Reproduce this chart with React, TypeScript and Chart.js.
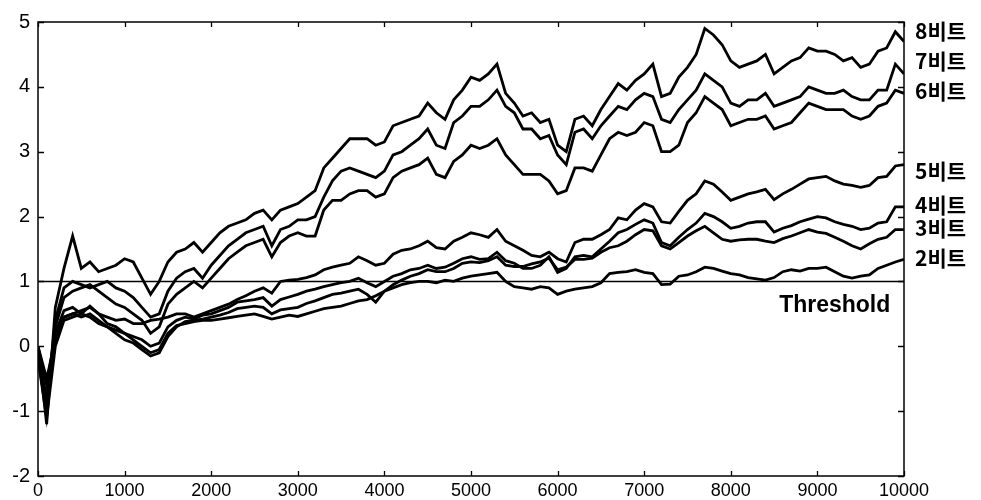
import React, { useEffect, useRef } from "react";
import { Chart, registerables } from "chart.js";

Chart.register(...registerables);

// sample positions (iterations)
const xs = [
  0, 100, 200, 300, 400, 500, 600, 700, 800, 900,
  1000, 1100, 1200, 1300, 1400, 1500, 1600, 1700, 1800, 1900,
  2000, 2100, 2200, 2300, 2400, 2500, 2600, 2700, 2800, 2900,
  3000, 3100, 3200, 3300, 3400, 3500, 3600, 3700, 3800, 3900,
  4000, 4100, 4200, 4300, 4400, 4500, 4600, 4700, 4800, 4900,
  5000, 5100, 5200, 5300, 5400, 5500, 5600, 5700, 5800, 5900,
  6000, 6100, 6200, 6300, 6400, 6500, 6600, 6700, 6800, 6900,
  7000, 7100, 7200, 7300, 7400, 7500, 7600, 7700, 7800, 7900,
  8000, 8100, 8200, 8300, 8400, 8500, 8600, 8700, 8800, 8900,
  9000, 9100, 9200, 9300, 9400, 9500, 9600, 9700, 9800, 9900,
  10000,
];

const s8 = [0.0,-1.2,0.6,1.2,1.7,1.2,1.3,1.15,1.2,1.25, 1.35,1.3,1.05,0.8,1.0,1.3,1.45,1.5,1.6,1.45, 1.6,1.75,1.85,1.9,1.95,2.05,2.1,1.95,2.1,2.15, 2.2,2.3,2.4,2.75,2.9,3.05,3.2,3.2,3.2,3.1, 3.15,3.4,3.45,3.5,3.55,3.75,3.6,3.5,3.8,3.95, 4.15,4.1,4.2,4.35,3.9,3.75,3.55,3.6,3.45,3.5, 3.1,3.0,3.5,3.55,3.4,3.65,3.85,4.05,3.95,4.1, 4.2,4.35,3.85,3.9,4.15,4.3,4.5,4.9,4.8,4.65, 4.4,4.3,4.35,4.4,4.5,4.2,4.3,4.4,4.45,4.6, 4.55,4.55,4.5,4.4,4.45,4.3,4.35,4.55,4.6,4.85, 4.7];
const s7 = [-0.1,-0.9,0.4,0.9,1.0,0.95,0.9,0.95,1.0,0.9, 0.85,0.75,0.6,0.45,0.5,0.85,1.05,1.15,1.2,1.05, 1.25,1.4,1.55,1.65,1.75,1.8,1.85,1.55,1.8,1.85, 1.95,1.95,2.0,2.3,2.55,2.7,2.75,2.7,2.65,2.6, 2.7,2.95,3.0,3.1,3.2,3.35,3.1,3.05,3.45,3.55, 3.7,3.7,3.8,3.95,3.7,3.6,3.35,3.35,3.2,3.25, 2.95,2.8,3.3,3.35,3.2,3.4,3.55,3.7,3.65,3.8, 3.9,3.85,3.5,3.45,3.65,3.8,3.95,4.2,4.1,4.0, 3.75,3.7,3.8,3.8,3.9,3.7,3.75,3.8,3.85,4.0, 3.95,3.9,3.9,3.95,3.85,3.8,3.8,3.95,3.95,4.35, 4.2];
const s6 = [-0.2,-1.0,0.3,0.75,0.85,0.9,0.95,0.85,0.75,0.65, 0.6,0.5,0.4,0.2,0.3,0.65,0.8,0.9,1.0,0.9, 1.05,1.2,1.35,1.45,1.55,1.6,1.65,1.38,1.6,1.7, 1.75,1.7,1.7,2.1,2.25,2.25,2.35,2.4,2.4,2.3, 2.35,2.6,2.7,2.75,2.8,2.9,2.65,2.6,2.85,2.95, 3.1,3.05,3.1,3.2,2.95,2.8,2.65,2.65,2.65,2.55, 2.35,2.4,2.75,2.75,2.7,2.95,3.2,3.3,3.25,3.3, 3.45,3.4,3.0,3.0,3.1,3.45,3.6,3.85,3.75,3.65, 3.4,3.45,3.5,3.5,3.55,3.35,3.4,3.45,3.6,3.75, 3.7,3.65,3.65,3.65,3.55,3.5,3.55,3.7,3.75,3.95, 3.9];
const s5 = [0.0,-0.6,0.2,0.55,0.6,0.5,0.62,0.5,0.45,0.4, 0.42,0.35,0.35,0.4,0.42,0.45,0.5,0.5,0.45,0.5, 0.55,0.6,0.65,0.72,0.78,0.85,0.9,0.82,1.0,1.02, 1.03,1.06,1.1,1.18,1.22,1.25,1.28,1.38,1.32,1.25, 1.28,1.42,1.48,1.5,1.55,1.62,1.52,1.5,1.62,1.68, 1.75,1.72,1.68,1.8,1.62,1.55,1.48,1.4,1.38,1.45, 1.35,1.3,1.6,1.65,1.65,1.72,1.8,1.98,1.95,2.1, 2.2,2.15,1.92,1.9,2.08,2.25,2.35,2.55,2.5,2.38, 2.25,2.3,2.35,2.38,2.42,2.26,2.35,2.42,2.5,2.58, 2.6,2.62,2.55,2.5,2.48,2.45,2.48,2.6,2.62,2.78, 2.8];
const s4 = [-0.1,-0.8,0.1,0.45,0.5,0.45,0.5,0.4,0.3,0.25, 0.2,0.15,0.1,0.0,0.05,0.3,0.4,0.45,0.42,0.48, 0.5,0.55,0.6,0.68,0.7,0.72,0.75,0.62,0.72,0.76, 0.8,0.85,0.88,0.92,0.95,0.98,1.0,1.05,0.98,0.92, 1.0,1.08,1.12,1.18,1.2,1.25,1.2,1.22,1.28,1.35, 1.38,1.34,1.35,1.45,1.32,1.28,1.2,1.2,1.25,1.38, 1.14,1.2,1.38,1.4,1.38,1.5,1.62,1.75,1.8,1.88, 1.95,1.9,1.6,1.55,1.68,1.8,1.9,2.05,2.0,1.92, 1.82,1.85,1.9,1.92,1.92,1.76,1.82,1.86,1.92,1.96, 2.0,1.98,1.92,1.88,1.85,1.8,1.82,1.9,1.92,2.15, 2.15];
const s3 = [-0.2,-1.1,0.0,0.4,0.45,0.5,0.45,0.35,0.3,0.2, 0.1,0.05,-0.05,-0.15,-0.1,0.15,0.3,0.38,0.4,0.42, 0.45,0.48,0.52,0.58,0.6,0.62,0.6,0.5,0.56,0.58, 0.6,0.66,0.7,0.75,0.8,0.82,0.85,0.88,0.8,0.68, 0.85,0.95,1.02,1.08,1.12,1.18,1.15,1.15,1.2,1.28, 1.3,1.29,1.32,1.38,1.25,1.23,1.23,1.27,1.3,1.36, 1.18,1.22,1.34,1.34,1.36,1.45,1.52,1.55,1.62,1.72, 1.8,1.78,1.55,1.5,1.6,1.7,1.78,1.85,1.75,1.65, 1.62,1.64,1.65,1.65,1.62,1.6,1.66,1.7,1.75,1.8, 1.76,1.74,1.68,1.62,1.55,1.5,1.58,1.65,1.68,1.8, 1.8];
const s2 = [0.0,-0.5,0.1,0.45,0.5,0.55,0.6,0.5,0.35,0.3, 0.2,0.1,0.0,-0.1,-0.05,0.2,0.32,0.35,0.38,0.4, 0.4,0.42,0.44,0.46,0.48,0.5,0.46,0.42,0.45,0.48, 0.46,0.5,0.54,0.58,0.6,0.62,0.66,0.7,0.72,0.78, 0.85,0.9,0.95,0.98,1.0,1.0,0.98,1.02,1.0,1.05, 1.08,1.1,1.12,1.14,1.0,0.92,0.9,0.88,0.92,0.9, 0.8,0.85,0.88,0.9,0.92,0.98,1.12,1.14,1.15,1.18, 1.14,1.12,0.95,0.96,1.08,1.1,1.15,1.22,1.2,1.16, 1.12,1.1,1.06,1.04,1.02,1.06,1.15,1.18,1.16,1.2, 1.2,1.22,1.15,1.08,1.05,1.08,1.1,1.2,1.25,1.3, 1.34];

const seriesNames = ["8비트", "7비트", "6비트", "5비트", "4비트", "3비트", "2비트"];
const seriesValues = [s8, s7, s6, s5, s4, s3, s2];
// y positions (data units) of the right-hand series labels
const labelLevels = [4.86, 4.4, 3.94, 2.7, 2.18, 1.83, 1.36];

const thresholdValue = 1;
const thresholdLabel = "Threshold";
const thresholdLabelAt = { x: 9200, y: 0.62 };

const xRange = { min: 0, max: 10000, step: 1000 };
const yRange = { min: -2, max: 5, step: 1 };

const framePlugin = {
  id: "frame",
  afterDatasetsDraw(chart: any) {
    const { ctx, chartArea, scales } = chart;
    const { left, right, top, bottom } = chartArea;
    const x = scales.x;
    const y = scales.y;
    ctx.save();
    ctx.strokeStyle = "#000";
    ctx.lineWidth = 1.5;
    ctx.strokeRect(left, top, right - left, bottom - top);
    ctx.lineWidth = 1.3;
    ctx.beginPath();
    x.ticks.forEach((t: any) => {
      const px = Math.round(x.getPixelForValue(t.value)) + 0.5;
      ctx.moveTo(px, bottom);
      ctx.lineTo(px, bottom - 5);
      ctx.moveTo(px, top);
      ctx.lineTo(px, top + 5);
    });
    y.ticks.forEach((t: any) => {
      const py = Math.round(y.getPixelForValue(t.value)) + 0.5;
      ctx.moveTo(left, py);
      ctx.lineTo(left + 6, py);
      ctx.moveTo(right, py);
      ctx.lineTo(right - 6, py);
    });
    ctx.stroke();

    ctx.fillStyle = "#000";
    ctx.textAlign = "left";
    ctx.textBaseline = "middle";
    ctx.font = 'bold 21px "Noto Sans CJK KR"';
    seriesNames.forEach((name, i) => {
      ctx.fillText(name, right + 11, y.getPixelForValue(labelLevels[i]));
    });

    ctx.textAlign = "center";
    ctx.font = 'bold 23px "Liberation Sans", Arial, sans-serif';
    ctx.fillText(
      thresholdLabel,
      x.getPixelForValue(thresholdLabelAt.x),
      y.getPixelForValue(thresholdLabelAt.y)
    );
    ctx.restore();
  },
};

export default function App() {
  const ref = useRef<HTMLCanvasElement | null>(null);

  useEffect(() => {
    if (!ref.current) return;
    const datasets: any[] = seriesValues.map((vals, i) => ({
      label: seriesNames[i],
      data: xs.map((xv, j) => ({ x: xv, y: vals[j] })),
      borderColor: "#000",
      borderWidth: 2.8,
      pointRadius: 0,
      tension: 0,
      fill: false,
    }));
    datasets.push({
      label: thresholdLabel,
      data: [
        { x: xRange.min, y: thresholdValue },
        { x: xRange.max, y: thresholdValue },
      ],
      borderColor: "#000",
      borderWidth: 1.5,
      pointRadius: 0,
      fill: false,
    });

    const chart = new Chart(ref.current, {
      type: "line",
      data: { datasets },
      options: {
        animation: false,
        responsive: false,
        maintainAspectRatio: false,
        devicePixelRatio: 1,
        layout: { padding: { top: 22, right: 77, left: 0, bottom: 0 } },
        plugins: {
          legend: { display: false },
          tooltip: { enabled: false },
        },
        scales: {
          x: {
            type: "linear",
            min: xRange.min,
            max: xRange.max,
            grid: { display: false, drawTicks: false },
            border: { display: false },
            ticks: {
              stepSize: xRange.step,
              autoSkip: false,
              maxRotation: 0,
              padding: 4,
              color: "#000",
              font: { family: '"Liberation Sans", Arial, sans-serif', size: 18 },
              callback: (v: any) => String(v),
            },
            afterFit: (s: any) => {
              s.height = 24;
            },
          },
          y: {
            min: yRange.min,
            max: yRange.max,
            grid: { display: false, drawTicks: false },
            border: { display: false },
            ticks: {
              stepSize: yRange.step,
              padding: 8,
              color: "#000",
              font: { family: '"Liberation Sans", Arial, sans-serif', size: 20 },
              callback: (v: any) => String(v),
            },
            afterFit: (s: any) => {
              s.width = 38;
            },
          },
        },
      },
      plugins: [framePlugin],
    });
    return () => chart.destroy();
  }, []);

  return (
    <div style={{ position: "absolute", left: 0, top: 0, width: 981, height: 500, background: "#fff" }}>
      <canvas ref={ref} width={981} height={500} style={{ width: 981, height: 500, display: "block" }} />
    </div>
  );
}
